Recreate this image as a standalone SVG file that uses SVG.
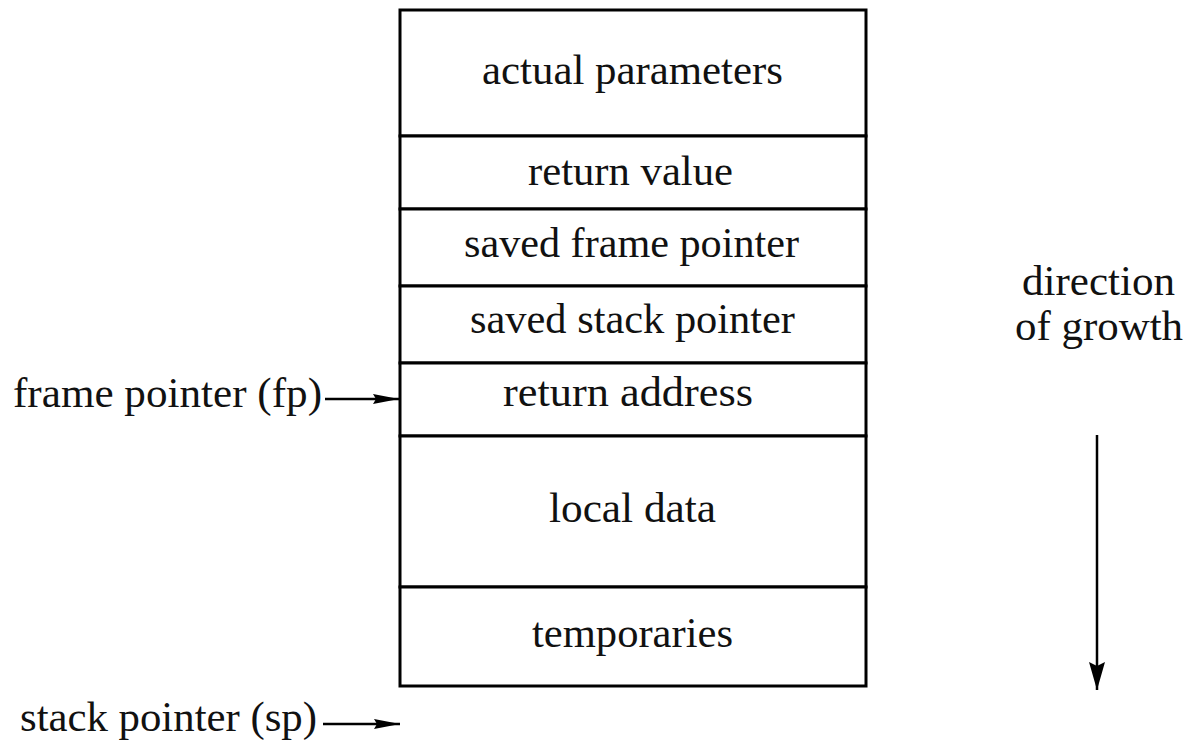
<svg xmlns="http://www.w3.org/2000/svg" width="1186" height="741" viewBox="0 0 1186 741">
  <style>
    .lbl { font-family: "Liberation Serif", "Times New Roman", serif; font-size: 43px; fill: #111; }
    .cell { fill: #fff; stroke: #000; stroke-width: 3; }
    .wire { stroke: #000; stroke-width: 2.5; fill: none; }
  </style>
  <defs>
    <marker id="headH" viewBox="0 0 26 12" refX="26" refY="6" markerWidth="26" markerHeight="12" markerUnits="userSpaceOnUse" orient="auto">
      <path d="M0,1 L26,6 L0,11 L3,6 Z" fill="#000"/>
    </marker>
    <marker id="headV" viewBox="0 0 28 16" refX="28" refY="8" markerWidth="28" markerHeight="16" markerUnits="userSpaceOnUse" orient="auto">
      <path d="M0,0 L28,8 L0,16 L4,8 Z" fill="#000"/>
    </marker>
  </defs>

  <!-- activation record cells -->
  <g id="actual-parameters">
    <rect class="cell" x="400" y="10" width="466" height="126"/>
    <text class="lbl" x="482" y="84" textLength="301" lengthAdjust="spacingAndGlyphs">actual parameters</text>
  </g>
  <g id="return-value">
    <rect class="cell" x="400" y="136" width="466" height="73"/>
    <text class="lbl" x="528" y="185" textLength="205" lengthAdjust="spacingAndGlyphs">return value</text>
  </g>
  <g id="saved-frame-pointer">
    <rect class="cell" x="400" y="209" width="466" height="77"/>
    <text class="lbl" x="464" y="257" textLength="335" lengthAdjust="spacingAndGlyphs">saved frame pointer</text>
  </g>
  <g id="saved-stack-pointer">
    <rect class="cell" x="400" y="286" width="466" height="77"/>
    <text class="lbl" x="470" y="333" textLength="325" lengthAdjust="spacingAndGlyphs">saved stack pointer</text>
  </g>
  <g id="return-address">
    <rect class="cell" x="400" y="363" width="466" height="73"/>
    <text class="lbl" x="503" y="406" textLength="250" lengthAdjust="spacingAndGlyphs">return address</text>
  </g>
  <g id="local-data">
    <rect class="cell" x="400" y="436" width="466" height="151"/>
    <text class="lbl" x="549" y="522" textLength="167" lengthAdjust="spacingAndGlyphs">local data</text>
  </g>
  <g id="temporaries">
    <rect class="cell" x="400" y="587" width="466" height="99"/>
    <text class="lbl" x="532" y="647" textLength="201" lengthAdjust="spacingAndGlyphs">temporaries</text>
  </g>

  <!-- pointer labels -->
  <g id="frame-pointer">
    <text class="lbl" x="13" y="407" textLength="309" lengthAdjust="spacingAndGlyphs">frame pointer (fp)</text>
  </g>
  <g id="stack-pointer">
    <text class="lbl" x="20" y="731" font-size="42" textLength="297" lengthAdjust="spacingAndGlyphs">stack pointer (sp)</text>
  </g>
  <g id="growth">
    <text class="lbl" x="1022" y="295" textLength="153" lengthAdjust="spacingAndGlyphs">direction</text>
    <text class="lbl" x="1015" y="340" textLength="168" lengthAdjust="spacingAndGlyphs">of growth</text>
  </g>

  <!-- connectors -->
  <g id="connectors">
    <line class="wire" x1="325" y1="399" x2="399" y2="399" marker-end="url(#headH)"/>
    <line class="wire" x1="323" y1="724" x2="400" y2="724" marker-end="url(#headH)"/>
    <line class="wire" x1="1097" y1="435" x2="1097" y2="690" stroke-width="3" marker-end="url(#headV)"/>
  </g>
</svg>
